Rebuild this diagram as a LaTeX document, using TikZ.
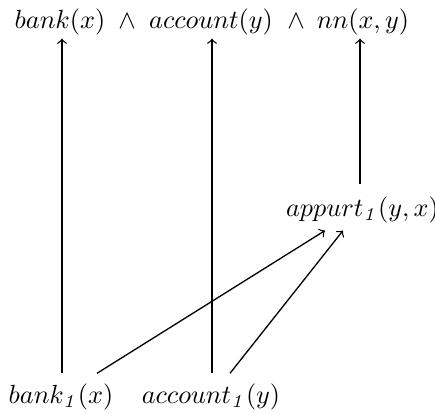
\documentclass[tikz,border=0pt]{standalone}
\begin{document}
\begin{tikzpicture}[x=0.3817pt,y=-0.3817pt,
  lbl/.style={inner sep=0pt, anchor=base},
  arr/.style={->, line width=0.5pt}]
\useasboundingbox (0,0) rectangle (435,414);
\node[lbl] (bank) at (60,28.5) {$bank(x)$};
\node[lbl] (w1) at (127,28.5) {$\wedge$};
\node[lbl] (acc) at (211,28.5) {$account(y)$};
\node[lbl] (w2) at (296,28.5) {$\wedge$};
\node[lbl] (nn) at (363,28.5) {$nn(x,y)$};
\node[lbl] (ap) at (362.5,216.5) {$appurt_{\mathit{1}}(y,x)$};
\node[lbl] (b1) at (61,403.5) {$bank_{\mathit{1}}(x)$};
\node[lbl] (a1) at (211,403.5) {$account_{\mathit{1}}(y)$};
\draw[arr] ([shift={(1,-10)}]b1.north) -- ([shift={(2,3)}]bank.south);
\draw[arr] ([shift={(1,-10)}]a1.north) -- ([shift={(1,3)}]acc.south);
\draw[arr] ([shift={(-2.5,-12)}]ap.north) -- ([shift={(-3,3)}]nn.south);
\draw[arr] ([shift={(36,-10)}]b1.north) -- ([shift={(-37.5,7)}]ap.south);
\draw[arr] ([shift={(19,-10)}]a1.north) -- ([shift={(-19.5,7)}]ap.south);
\end{tikzpicture}
\end{document}
